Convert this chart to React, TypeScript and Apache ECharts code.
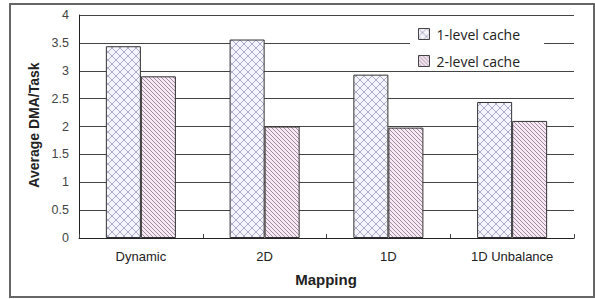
import React, { useEffect, useRef } from "react";
import * as echarts from "echarts";

const categories = ["Dynamic", "2D", "1D", "1D Unbalance"];
const seriesNames = ["1-level cache", "2-level cache"];
const level1 = [3.44, 3.56, 2.93, 2.44];
const level2 = [2.9, 2.0, 1.98, 2.1];
const yTicks = { min: 0, max: 4, interval: 0.5 };

function crossPattern() {
  const s = 8;
  const c = document.createElement("canvas");
  c.width = s;
  c.height = s;
  const ctx = c.getContext("2d")!;
  ctx.fillStyle = "#f4f4fc";
  ctx.fillRect(0, 0, s, s);
  ctx.strokeStyle = "#ababc6";
  ctx.lineWidth = 1;
  ctx.beginPath();
  ctx.moveTo(0, 0);
  ctx.lineTo(s, s);
  ctx.moveTo(s, 0);
  ctx.lineTo(0, s);
  ctx.stroke();
  return { image: c, repeat: "repeat", imageWidth: s, imageHeight: s };
}

function diagPattern() {
  const s = 4;
  const c = document.createElement("canvas");
  c.width = s;
  c.height = s;
  const ctx = c.getContext("2d")!;
  ctx.fillStyle = "#f5e9f3";
  ctx.fillRect(0, 0, s, s);
  ctx.strokeStyle = "#9c7d99";
  ctx.lineWidth = 0.9;
  ctx.beginPath();
  ctx.moveTo(-1, -1);
  ctx.lineTo(s + 1, s + 1);
  ctx.moveTo(-1, s - 1);
  ctx.lineTo(1, s + 1);
  ctx.moveTo(s - 1, -1);
  ctx.lineTo(s + 1, 1);
  ctx.stroke();
  return { image: c, repeat: "repeat", imageWidth: s, imageHeight: s };
}

export default function App() {
  const ref = useRef<HTMLDivElement>(null);
  useEffect(() => {
    if (!ref.current) return;
    const chart = echarts.init(ref.current, undefined, { renderer: "svg" });
    const p1 = crossPattern();
    const p2 = diagPattern();
    chart.setOption({
      animation: false,
      backgroundColor: "#fff",
      graphic: [
        {
          type: "rect",
          shape: { x: 10, y: 4, width: 584, height: 293 },
          style: { fill: "none", stroke: "#666", lineWidth: 2 },
          z: -1,
        },
        {
          type: "text",
          x: 34,
          y: 125,
          rotation: Math.PI / 2,
          style: {
            text: "Average DMA/Task",
            font: "bold 14px Arial, 'Liberation Sans', sans-serif",
            fill: "#222",
            align: "center",
            verticalAlign: "middle",
          },
        },
        {
          type: "text",
          x: 326,
          y: 279,
          style: {
            text: "Mapping",
            font: "bold 15px Arial, 'Liberation Sans', sans-serif",
            fill: "#222",
            align: "center",
            verticalAlign: "middle",
          },
        },
      ],
      grid: { left: 79, top: 15, right: 21, bottom: 61, containLabel: false },
      legend: {
        orient: "vertical",
        left: 410,
        top: 21,
        padding: [6, 24, 2, 8],
        backgroundColor: "#fff",
        itemWidth: 11,
        itemHeight: 11,
        itemGap: 13,
        icon: "rect",
        textStyle: {
          fontFamily: "'Open Sans', sans-serif",
          fontSize: 14,
          color: "#222",
          padding: [0, 0, 0, 2],
        },
        itemStyle: { borderColor: "#444", borderWidth: 1 },
        data: seriesNames,
      },
      xAxis: {
        type: "category",
        data: categories,
        axisLine: { lineStyle: { color: "#222", width: 1 } },
        axisTick: { show: true, inside: true, length: 4, lineStyle: { color: "#444" } },
        axisLabel: {
          margin: 12,
          fontFamily: "Arial, 'Liberation Sans', sans-serif",
          fontSize: 13,
          color: "#222",
        },
        splitLine: { show: false },
      },
      yAxis: {
        type: "value",
        min: yTicks.min,
        max: yTicks.max,
        interval: yTicks.interval,
        axisLine: { show: true, lineStyle: { color: "#222", width: 1 } },
        axisTick: { show: false },
        axisLabel: {
          margin: 10,
          fontFamily: "Arial, 'Liberation Sans', sans-serif",
          fontSize: 12.5,
          color: "#444",
        },
        splitLine: { show: true, lineStyle: { color: "#444", width: 1 } },
      },
      series: [
        {
          name: seriesNames[0],
          type: "bar",
          data: level1,
          barWidth: "28.3%",
          barGap: "0%",
          itemStyle: { color: p1, borderColor: "#333", borderWidth: 1 },
        },
        {
          name: seriesNames[1],
          type: "bar",
          data: level2,
          barWidth: "28.3%",
          barGap: "0%",
          itemStyle: { color: p2, borderColor: "#333", borderWidth: 1 },
        },
      ],
    });
    return () => chart.dispose();
  }, []);
  return <div ref={ref} style={{ width: 595, height: 299, position: "absolute", left: 0, top: 0 }} />;
}
